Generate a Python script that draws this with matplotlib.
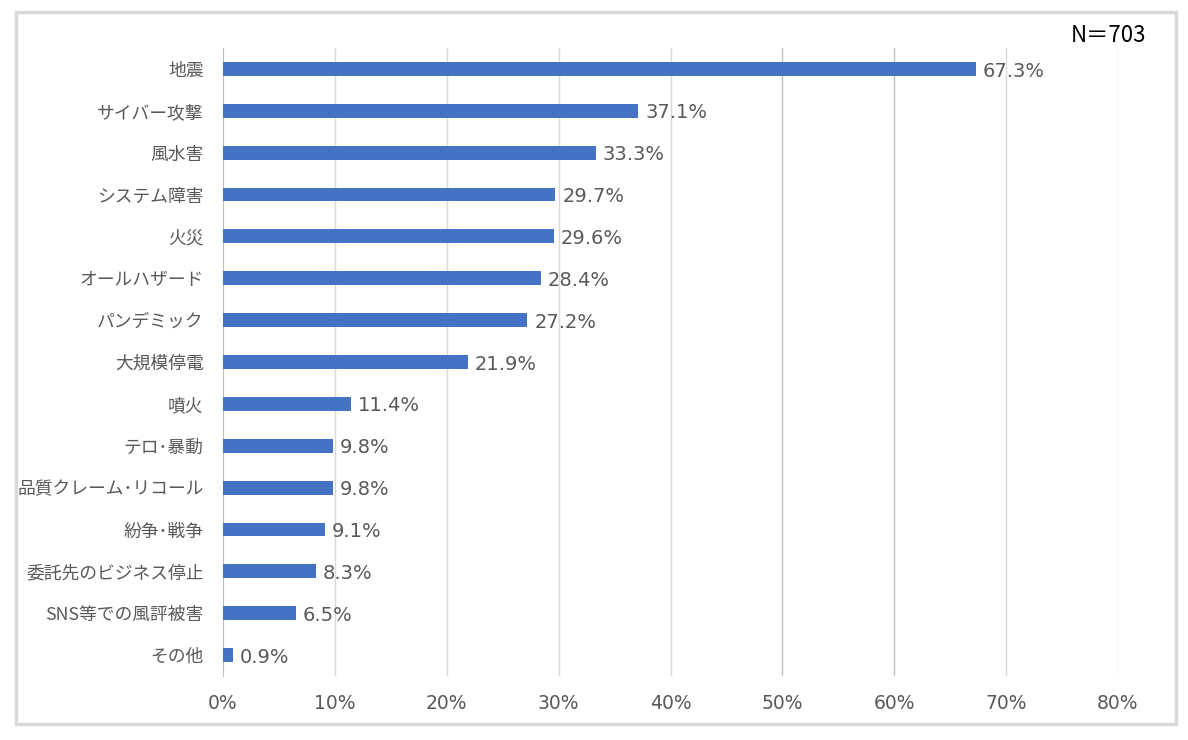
import matplotlib
matplotlib.use("Agg")
import matplotlib.pyplot as plt
from matplotlib.patches import Rectangle

plt.rcParams['font.family'] = ['Noto Sans CJK JP', 'DejaVu Sans']

categories = ['地震', 'サイバー攻撃', '風水害', 'システム障害', '火災', 'オールハザード',
              'パンデミック', '大規模停電', '噴火', 'テロ･暴動', '品質クレーム･リコール',
              '紛争･戦争', '委託先のビジネス停止', 'SNS等での風評被害', 'その他']
values = [67.3, 37.1, 33.3, 29.7, 29.6, 28.4, 27.2, 21.9, 11.4, 9.8, 9.8, 9.1, 8.3, 6.5, 0.9]
ticks = [0, 10, 20, 30, 40, 50, 60, 70, 80]

text_color = '#595959'
num_font = ['DejaVu Sans', 'Noto Sans CJK JP']

fig = plt.figure(figsize=(11.88, 7.40), dpi=100)
ax = fig.add_axes([223 / 1188, 1 - 676 / 740, (1118 - 223) / 1188, (676 - 48) / 740])

# outer frame
fig.patches.append(Rectangle((16 / 1188, 1 - 724 / 740), 1160 / 1188, 712 / 740,
                             transform=fig.transFigure, fill=False,
                             edgecolor='#d9d9d9', linewidth=2.5))

y = list(range(len(categories)))
ax.barh(y, values, height=0.33, color='#4472c4', zorder=3)

for i, v in enumerate(values):
    ax.annotate(f'{v:.1f}%', (v, i), xytext=(5, -1.5), textcoords='offset points',
                va='center', ha='left', fontsize=14, color=text_color, family=num_font)

ax.set_xlim(0, 80)
ax.set_ylim(len(categories) - 0.5, -0.5)
ax.set_xticks(ticks)
ax.set_xticklabels([f'{t}%' for t in ticks], fontsize=13.5, color=text_color, family=num_font)
ax.set_yticks(y)
ax.set_yticklabels(categories, fontsize=12.8, color=text_color)
ax.tick_params(axis='both', length=0)
ax.tick_params(axis='x', pad=13)
ax.tick_params(axis='y', pad=14)

for t in ticks[1:]:
    c = '#bfbfbf' if t in (50, 60) else '#d9d9d9'
    ax.axvline(t, color=c, linewidth=1, zorder=1)

for s in ['top', 'right', 'bottom']:
    ax.spines[s].set_visible(False)
ax.spines['left'].set_color('#bfbfbf')

fig.text(1146 / 1188, 1 - 35 / 740, 'N＝703', ha='right', va='center', fontsize=16, color='black')

fig.savefig('out.png', dpi=100)
